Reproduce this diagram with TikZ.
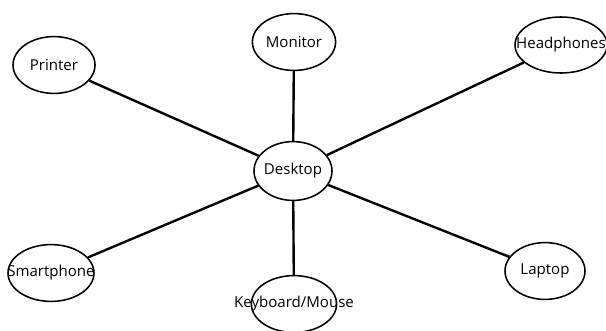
\documentclass[tikz,border=0pt]{standalone}
\usepackage{fontspec}
\setmainfont{Open Sans}
\usepackage{tikz}
\usetikzlibrary{shapes.geometric, positioning}
\tikzset{
	device/.style={ellipse, draw, line width=1.1pt, inner sep=0pt,
		minimum width=2.05cm, minimum height=1.42cm},
	link/.style={line width=1.7pt},
}

\begin{document}
\begin{tikzpicture}[x=0.025cm, y=-0.025cm, font=\fontsize{10.7}{12}\selectfont]
	\useasboundingbox[fill=white] (0,0) rectangle (606,330);
	% hub in the middle
	\node[device, minimum width=1.95cm, minimum height=1.47cm, label={center:Desktop}] (desk) at (293,171) {};
	% devices around it
	\node[device, label={center:Printer}] (prn) at (54,65) {};
	\node[device, minimum width=2.08cm, label={center:Monitor}] (mon) at (294,42) {};
	\node[device, minimum width=2.3cm, minimum height=1.4cm, label={center:Headphones}] (hph) at (561,45) {};
	\node[device, minimum width=2.15cm, label={center:Smartphone}] (phn) at (51,273) {};
	\node[device, minimum width=2.13cm, label={center:Keyboard/Mouse}] (kbd) at (294,304) {};
	\node[device, minimum width=2.0cm, label={center:Laptop}] (lap) at (545,271) {};
	% spokes
	\foreach \d in {prn, mon, hph, phn, kbd, lap}
		\draw[link] (desk) -- (\d);
\end{tikzpicture}
\end{document}
